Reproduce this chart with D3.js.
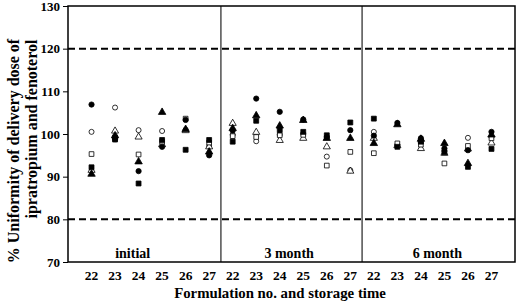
<html><head>
<script src="https://d3js.org/d3.v7.min.js"></script>
<style>
  body { margin: 0; background: #fff; }
  svg text { font-family: "Liberation Serif", "Times New Roman", serif; font-weight: bold; fill: #000; }
</style>
</head>
<body>
<svg id="chart" width="520" height="303"></svg>
<script>
// formulation numbers, repeated for each storage time
const formulations = ["22", "23", "24", "25", "26", "27"];
const periods = ["initial", "3 month", "6 month"];
const yTicks = [70, 80, 90, 100, 110, 120, 130];
const limits = [80, 120];

// one value per position (18 = 6 formulations x 3 periods)
const filledCircle   = [106.9, 98.8, 91.3, 97.0, 103.3, 95.0, 100.8, 108.3, 105.2, 103.4, 99.3, 100.9, 99.6, 102.6, 99.0, 96.6, 96.2, 100.5];
const openCircle     = [100.5, 106.2, 100.9, 100.7, 101.0, 97.2, 99.8, 98.3, 99.8, 100.0, 94.7, 91.5, 100.5, 97.5, 98.0, 96.0, 99.1, 99.3];
const filledTriangle = [90.6, 99.6, 93.5, 105.1, 101.1, 95.8, 101.3, 104.3, 101.9, 103.2, 99.0, 99.0, 97.8, 102.2, 98.8, 97.8, 93.1, 99.8];
const openTriangle   = [91.5, 100.7, 99.3, 97.5, 100.8, 97.0, 102.5, 100.4, 98.5, 99.0, 97.0, 91.3, 99.0, 97.3, 96.6, 95.5, 96.5, 97.9];
const filledSquare   = [92.2, 98.7, 88.4, 98.6, 96.3, 98.6, 98.2, 103.1, 100.9, 100.5, 99.7, 102.7, 103.6, 97.0, 98.2, 95.7, 92.3, 96.5];
const openSquare     = [95.3, 99.2, 95.2, 98.2, 103.6, 98.0, 99.5, 99.3, 99.7, 99.8, 92.6, 95.8, 95.5, 97.8, 97.5, 93.1, 97.2, 99.0];

const series = [
  { values: openCircle, shape: d3.symbolCircle, size: 20, fill: "#fff" },
  { values: openTriangle, shape: d3.symbolTriangle, size: 22, fill: "#fff" },
  { values: openSquare, shape: d3.symbolSquare, size: 22, fill: "#fff" },
  { values: filledCircle, shape: d3.symbolCircle, size: 22, fill: "#000" },
  { values: filledTriangle, shape: d3.symbolTriangle, size: 24, fill: "#000" },
  { values: filledSquare, shape: d3.symbolSquare, size: 24, fill: "#000" }
];

const svg = d3.select("#chart");
const margin = { left: 68, right: 5, top: 6, bottom: 41 };
const W = 520 - margin.left - margin.right;
const H = 303 - margin.top - margin.bottom;

const n = formulations.length * periods.length;
const x = d3.scaleLinear().domain([0, n + 1]).range([0, W]);
const y = d3.scaleLinear().domain([70, 130]).range([H, 0]);

const g = svg.append("g").attr("transform", "translate(" + margin.left + "," + margin.top + ")");

// limit lines
g.selectAll(".limit").data(limits).join("line")
  .attr("x1", 0).attr("x2", W)
  .attr("y1", d => y(d)).attr("y2", d => y(d))
  .attr("stroke", "#000").attr("stroke-width", 2).attr("stroke-dasharray", "7,4");

// period separators
g.selectAll(".sep").data([1, 2]).join("line")
  .attr("x1", d => x(d * 6 + 0.5)).attr("x2", d => x(d * 6 + 0.5))
  .attr("y1", 0).attr("y2", H)
  .attr("stroke", "#222").attr("stroke-width", 1.2);

// y axis
let leftAxis = d3.axisLeft(y).tickValues(yTicks).tickSize(5).tickPadding(3);
let ya = g.append("g").call(leftAxis);
ya.select(".domain").remove();
ya.selectAll("line").attr("stroke", "#000");
ya.selectAll("text").attr("font-size", 13).attr("font-family", "Liberation Serif").attr("font-weight", "bold");

// frame
g.append("rect").attr("width", W).attr("height", H)
  .attr("fill", "none").attr("stroke", "#000").attr("stroke-width", 1.5);

// x tick labels
const labels = d3.range(n).map(i => ({ pos: i + 1, text: formulations[i % 6] }));
g.selectAll(".xl").data(labels).join("text")
  .attr("x", d => x(d.pos)).attr("y", H + 18)
  .attr("text-anchor", "middle").attr("font-size", 13.5)
  .text(d => d.text);

// period labels
const periodX = [2.75, 9.4, 15.7];
g.selectAll(".pl").data(periods).join("text")
  .attr("x", (d, i) => x(periodX[i])).attr("y", H - 4)
  .attr("text-anchor", "middle").attr("font-size", 14)
  .text(d => d);

// points
series.forEach(s => {
  g.selectAll(null).data(s.values.map((v, i) => ({ v: v, pos: i + 1 })).filter(d => d.v != null))
    .join("path")
    .attr("d", d3.symbol().type(s.shape).size(s.size))
    .attr("transform", d => "translate(" + x(d.pos) + "," + y(d.v) + ")")
    .attr("fill", s.fill).attr("stroke", "#000").attr("stroke-width", 0.8);
});

// axis titles
svg.append("text").attr("x", 280).attr("y", 298)
  .attr("text-anchor", "middle").attr("font-size", 14.8)
  .text("Formulation no. and storage time");

svg.append("text").attr("transform", "translate(19,151) rotate(-90)")
  .attr("text-anchor", "middle").attr("font-size", 16)
  .text("% Uniformity of delivery dose of");
svg.append("text").attr("transform", "translate(37,129) rotate(-90)")
  .attr("text-anchor", "middle").attr("font-size", 16)
  .text("ipratropium  and fenoterol");
</script>
</body>
</html>
